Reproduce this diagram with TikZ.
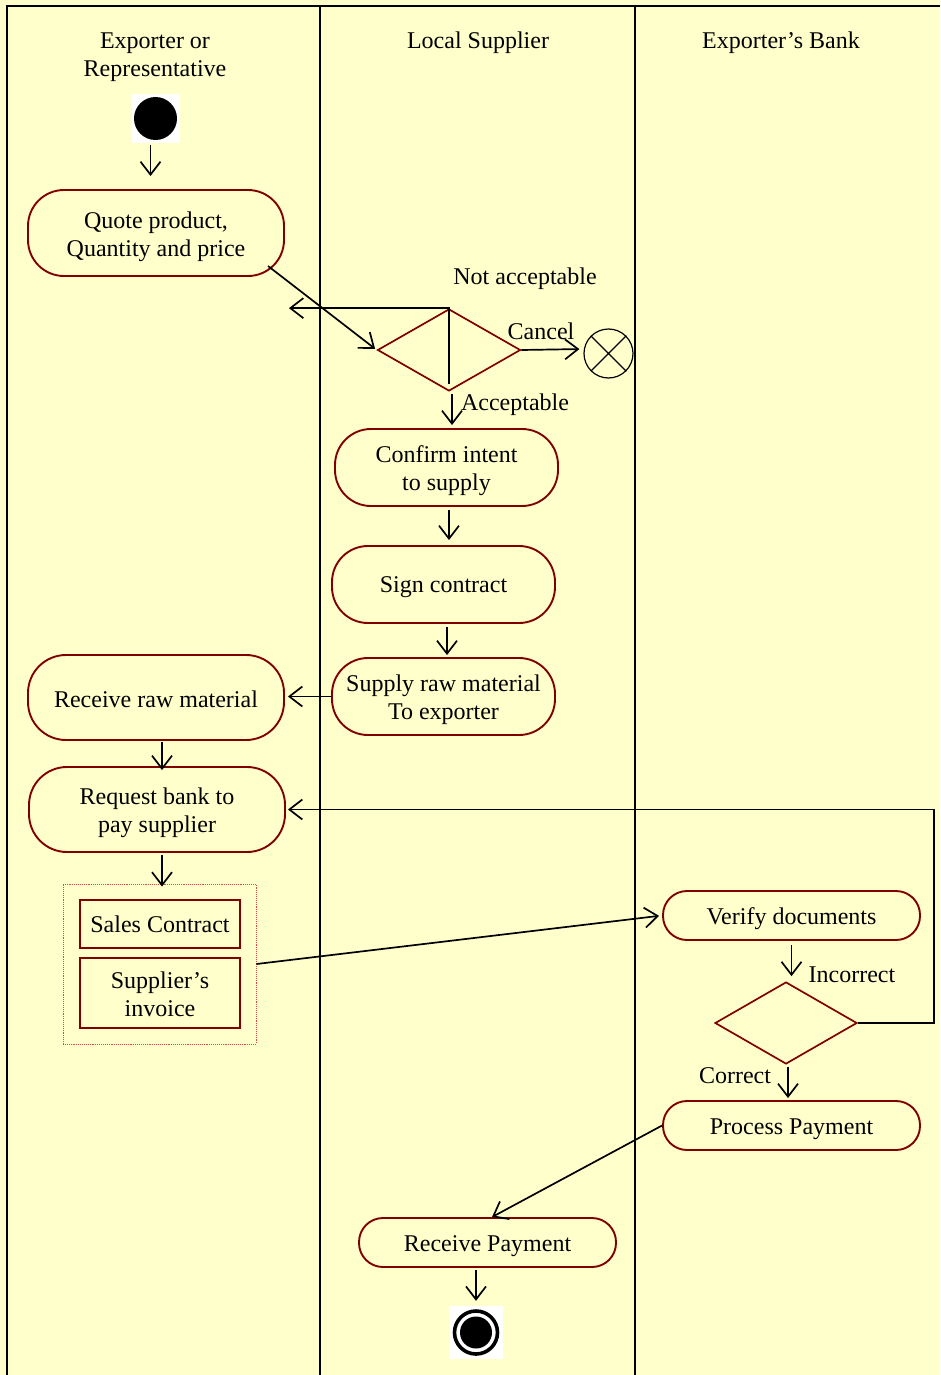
\documentclass[tikz,border=0pt]{standalone}
\usepackage{fontspec}
\setmainfont{Liberation Serif}
\usetikzlibrary{arrows.meta,shapes.geometric,calc}
\definecolor{bg}{HTML}{FFFFCC}
\definecolor{actred}{HTML}{800000}
\definecolor{dotred}{HTML}{E04848}
\newcommand\actnode[8]{%
  \node[actbox=#6, minimum width=#4, minimum height=#5] (#1) at (#2,#3) {};
  \node[lbl] (#1-text) at ([yshift=-#7]#1.center) {#8};}
\begin{document}
\begin{tikzpicture}[x=1pt,y=-1pt,
  every node/.style={font=\fontsize{24}{28}\selectfont},
  actbox/.style={draw=actred, line width=1.9pt, rounded corners=#1, inner sep=0pt, fill=bg},
  docbox/.style={draw=actred, line width=2pt, inner sep=0pt, align=center, fill=bg},
  decision/.style={diamond, draw=actred, line width=1.7pt, inner sep=0pt, fill=bg},
  arr/.style={-{Straight Barb[length=13pt,width=20pt]}, line width=1.7pt},
  lane/.style={line width=2.6pt},
  lbl/.style={inner sep=0pt, align=center}
]
\fill[bg] (0,0) rectangle (940,1375);
\useasboundingbox (0,0) rectangle (940,1375);
% lanes
\draw[lane] (7,1375) -- (7,6) -- (940,6);
\draw[lane] (320,6) -- (320,1375);
\draw[lane] (635,6) -- (635,1375);
% headers
\node[lbl] (h1) at (155,57) {Exporter or\\Representative};
\node[lbl] (h2) at (478,43) {Local Supplier};
\node[lbl] (h3) at (781,43) {Exporter’s Bank};
% start
\node[fill=white, minimum width=48pt, minimum height=49pt, inner sep=0pt] (start) at (155.5,118.5) {};
\fill[black] (start.center) circle (21.5);
% activities
\actnode{quote}{156}{233}{256pt}{86pt}{36pt}{4pt}{Quote product,\\Quantity and price}
\node[decision, minimum width=143pt, minimum height=82pt] (d1) at (449,350) {};
\node[circle, draw, line width=1.2pt, minimum size=49pt, inner sep=0pt, fill=bg] (cancelend) at (608.5,353.5) {};
\draw[line width=1.2pt] (cancelend.45) -- (cancelend.225) (cancelend.135) -- (cancelend.-45);
\actnode{confirm}{446.5}{467.5}{223pt}{77pt}{36pt}{3pt}{Confirm intent\\to supply}
\actnode{sign}{443.5}{584.5}{223pt}{77pt}{36pt}{3pt}{Sign contract}
\actnode{supply}{443.5}{696.5}{223pt}{77pt}{36pt}{3pt}{Supply raw material\\To exporter}
\actnode{recv}{156}{697.5}{256pt}{85pt}{38pt}{1.5pt}{Receive raw material}
\actnode{req}{157}{809.5}{256pt}{85pt}{38pt}{3pt}{Request bank to\\pay supplier}
\node[draw=dotred, densely dotted, line width=0.9pt, minimum width=193pt, minimum height=160pt, inner sep=0pt] (docs) at (159.5,964) {};
\node[docbox, minimum width=160pt, minimum height=48pt] (sales) at (160,924) {Sales Contract};
\node[docbox, minimum width=160pt, minimum height=70pt] (inv) at (160,993) {};
\node[lbl] (inv-text) at ([yshift=-1pt]inv.center) {Supplier’s\\invoice};
\actnode{verify}{791.5}{915.5}{257pt}{49pt}{24pt}{3pt}{Verify documents}
\node[decision, minimum width=142pt, minimum height=82pt] (d2) at (786,1023) {};
\actnode{proc}{791.5}{1125.5}{257pt}{49pt}{24pt}{3.5pt}{Process Payment}
\actnode{rpay}{487.5}{1242.5}{257pt}{49pt}{24pt}{3.5pt}{Receive Payment}
% final
\node[fill=white, minimum width=54pt, minimum height=53pt, inner sep=0pt] (final) at (476,1332.5) {};
\draw[line width=3.6pt] (final.center) circle (21.5);
\fill[black] (final.center) circle (16);
% labels
\node[lbl] (lna) at (525,279) {Not acceptable};
\node[lbl] (lcan) at (541,331) {Cancel};
\node[lbl] (lacc) at (515,405) {Acceptable};
\node[lbl] (linc) at (852,975) {Incorrect};
\node[lbl] (lcor) at (735,1076) {Correct};
% connectors
\draw[arr, shorten >=13pt] ([xshift=-5pt,yshift=-2pt]start.south) -- ([xshift=-5pt]start.south |- quote.north);
\draw[arr, shorten >=2pt] ($(quote.center)+(112,33)$) -- (d1.west);
\draw[arr] ($(d1.south)+(0,-8)$) -- (d1.north) -- ($(quote.east |- d1.north)+(4,0)$);
\draw[arr, shorten >=4pt] (d1.east) -- ([yshift=1pt]d1.east -| cancelend.west);
\draw[arr, shorten <=2pt, shorten >=3pt] ([xshift=3pt]d1.south) -- ([xshift=3pt]d1.south |- confirm.north);
\draw[arr, shorten <=3pt, shorten >=5pt] ([xshift=2.5pt]confirm.south) -- ([xshift=2.5pt]confirm.south |- sign.north);
\draw[arr, shorten <=3pt, shorten >=2pt] ([xshift=3.5pt]sign.south) -- ([xshift=3.5pt]sign.south |- supply.north);
\draw[arr, shorten >=3pt] (supply.west) -- (supply.west -| recv.east);
\draw[arr, shorten <=1pt, shorten >=-4pt] ([xshift=6pt]recv.south) -- ([xshift=6pt]recv.south |- req.north);
\draw[arr, shorten <=2pt, shorten >=-3pt] ([xshift=5pt]req.south) -- ([xshift=5pt]req.south |- docs.north);
\draw[arr, shorten >=3pt] (docs.east) -- (verify.west);
\draw[arr, shorten <=4pt, shorten >=5pt] (verify.south) -- (verify.south |- d2.north);
\draw[arr, shorten >=2pt] (d2.east) -- (934,1023) -- (934,809.5) -- (req.east);
\draw[arr, shorten <=2pt, shorten >=2pt] ([xshift=2pt]d2.south) -- ([xshift=2pt]d2.south |- proc.north);
\draw[arr] (proc.west) -- ([xshift=4.5pt]rpay.north);
\draw[arr, shorten <=2pt, shorten >=5pt] ([xshift=-11.5pt]rpay.south) -- ([xshift=-11.5pt]rpay.south |- final.north);
\end{tikzpicture}
\end{document}
